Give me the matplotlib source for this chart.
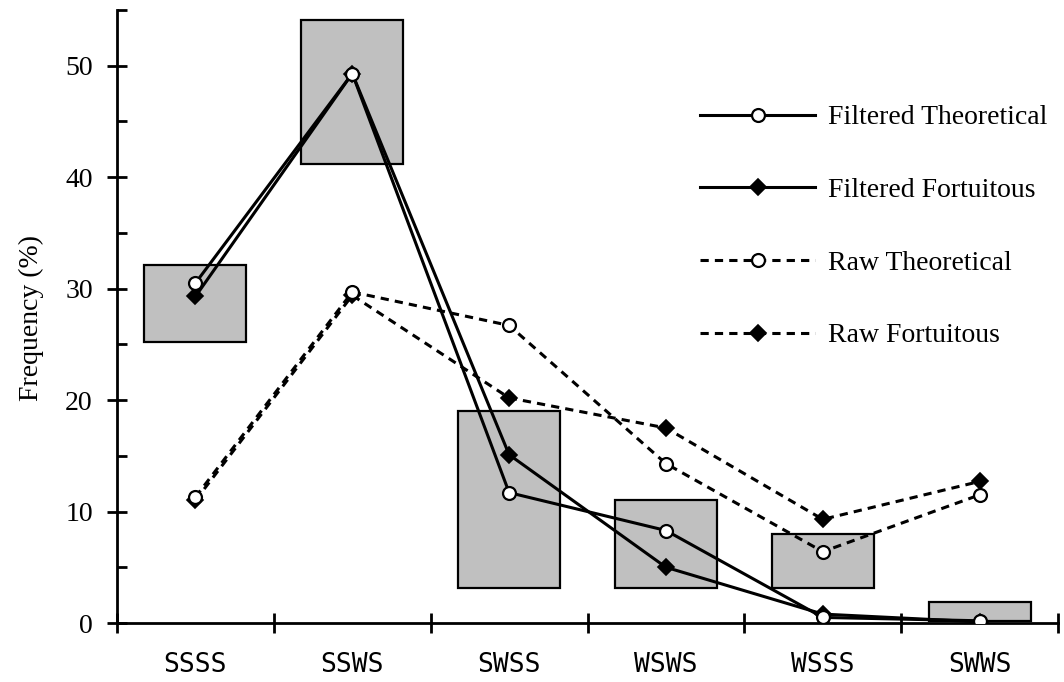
import matplotlib
matplotlib.use("Agg")
import matplotlib.pyplot as plt
import numpy as np

# categories and values
categories = ["SSSS", "SSWS", "SWSS", "WSWS", "WSSS", "SWWS"]
box_low = [25.2, 41.2, 3.1, 3.1, 3.1, 0.2]
box_high = [32.1, 54.1, 19.0, 11.0, 8.0, 1.9]

filtered_theoretical = [30.5, 49.3, 11.7, 8.3, 0.5, 0.2]
filtered_fortuitous = [29.3, 49.3, 15.1, 5.0, 0.8, 0.1]
raw_theoretical = [11.3, 29.7, 26.7, 14.3, 6.4, 11.5]
raw_fortuitous = [11.0, 29.4, 20.2, 17.5, 9.3, 12.7]

serif = ["Liberation Serif", "DejaVu Serif"]
plt.rcParams["font.family"] = serif

fig = plt.figure(figsize=(10.64, 6.82), dpi=100)
ax = fig.add_axes([0.110, 0.0865, 0.8844, 0.8988])

x = np.arange(len(categories))

# floating boxes
ax.bar(x, np.array(box_high) - np.array(box_low), bottom=box_low, width=0.65,
       color="#c0c0c0", edgecolor="black", linewidth=1.6, zorder=1)

dash = (0, (2.7, 2.0))
circ = dict(color="black", linewidth=2.2, marker="o", markersize=9.3,
            markeredgewidth=1.6, markeredgecolor="black",
            markerfacecolor="white", zorder=3)
diam = dict(color="black", linewidth=2.2, marker="D", markersize=8,
            markeredgewidth=1.2, markeredgecolor="black",
            markerfacecolor="black", zorder=3)

ax.plot(x, raw_fortuitous, linestyle=dash, label="Raw Fortuitous", **diam)
ax.plot(x, raw_theoretical, linestyle=dash, label="Raw Theoretical", **circ)
ax.plot(x, filtered_fortuitous, linestyle="-", label="Filtered Fortuitous", **diam)
ax.plot(x, filtered_theoretical, linestyle="-", label="Filtered Theoretical", **circ)

ax.set_xlim(-0.5, len(categories) - 0.5)
ax.set_ylim(0, 55)

# x axis: tick marks at category boundaries, labels at centres
ax.set_xticks(np.arange(-0.5, len(categories), 1.0))
ax.set_xticklabels([])
ax.set_xticks(x, minor=True)
ax.set_xticklabels(categories, minor=True, family="DejaVu Sans Mono", fontsize=19)
ax.tick_params(axis="x", which="major", direction="inout", length=15, width=2)
ax.tick_params(axis="x", which="minor", length=0, pad=21)

# y axis
ax.set_yticks(np.arange(0, 51, 10))
ax.set_yticks(np.arange(5, 56, 10), minor=True)
ax.tick_params(axis="y", which="major", direction="inout", length=15, width=2,
               labelsize=20, pad=10)
ax.tick_params(axis="y", which="minor", direction="in", length=7, width=2)
ax.set_ylabel("Frequency (%)", fontsize=20)
ax.yaxis.set_label_coords(-0.078, 0.497)

for side in ["top", "right"]:
    ax.spines[side].set_visible(False)
for side in ["left", "bottom"]:
    ax.spines[side].set_linewidth(2)

handles, labels = ax.get_legend_handles_labels()
order = [3, 2, 1, 0]
fig.legend([handles[i] for i in order], [labels[i] for i in order],
           loc="upper left", bbox_to_anchor=(0.658, 0.846), frameon=False,
           fontsize=20, handlelength=4.14, handletextpad=0.47, labelspacing=1.7,
           borderpad=0, borderaxespad=0, numpoints=1)

fig.savefig("out.png", dpi=100)
